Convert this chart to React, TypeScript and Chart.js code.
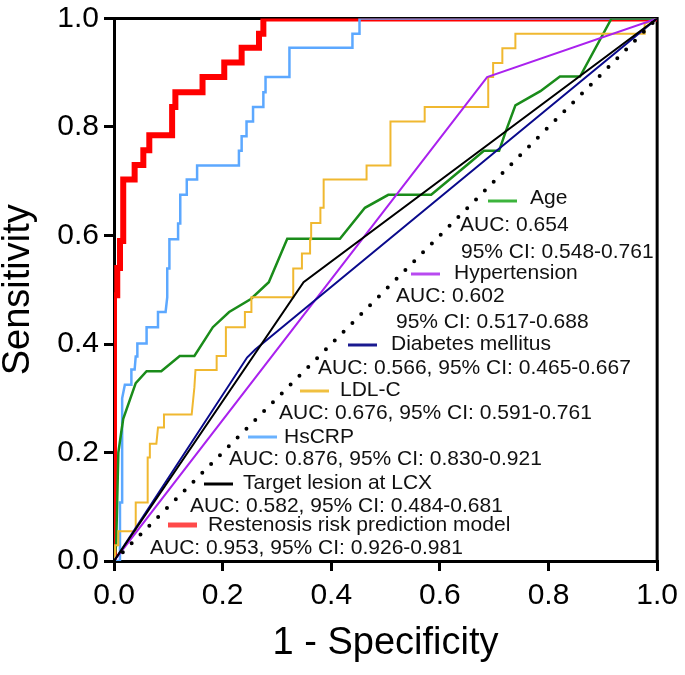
import React, { useEffect, useRef } from 'react';
import { Chart, registerables } from 'chart.js';

Chart.register(...registerables);

const FONT = '"Liberation Sans", Arial, Helvetica, sans-serif';

// ---- axis ticks ----
const xTickValues = [0, 0.2, 0.4, 0.6, 0.8, 1.0];
const yTickValues = [0, 0.2, 0.4, 0.6, 0.8, 1.0];
const xTitle = '1 - Specificity';
const yTitle = 'Sensitivity';

// ---- ROC curves: [1 - specificity, sensitivity] ----
const ageRoc: [number, number][] = [
  [0, 0], [0.004, 0.03], [0.008, 0.2], [0.013, 0.235], [0.017, 0.262], [0.04, 0.328], [0.06, 0.35],
  [0.087, 0.35], [0.121, 0.378], [0.148, 0.378], [0.182, 0.431], [0.212, 0.459], [0.252, 0.483],
  [0.285, 0.514], [0.319, 0.594], [0.416, 0.594], [0.462, 0.651], [0.505, 0.675], [0.584, 0.675],
  [0.651, 0.731], [0.681, 0.756], [0.709, 0.756], [0.721, 0.791], [0.739, 0.84], [0.785, 0.866],
  [0.821, 0.893], [0.858, 0.893], [0.916, 1], [1, 1],
];

const hypertensionRoc: [number, number][] = [
  [0, 0], [0.687, 0.892], [1, 1],
];

const diabetesRoc: [number, number][] = [
  [0, 0], [0.245, 0.375], [0.26, 0.39], [1, 1],
];

const ldlRoc: [number, number][] = [
  [0, 0], [0.002, 0], [0.002, 0.029], [0.008, 0.029], [0.008, 0.055], [0.04, 0.055], [0.04, 0.108],
  [0.062, 0.108], [0.062, 0.191], [0.066, 0.191], [0.066, 0.216], [0.078, 0.216], [0.081, 0.246],
  [0.092, 0.246], [0.092, 0.27], [0.143, 0.27], [0.148, 0.32], [0.15, 0.352], [0.189, 0.352],
  [0.189, 0.378], [0.206, 0.378], [0.206, 0.431], [0.241, 0.431], [0.241, 0.459], [0.253, 0.459],
  [0.253, 0.486], [0.33, 0.486], [0.33, 0.539], [0.346, 0.539], [0.346, 0.567], [0.361, 0.567],
  [0.361, 0.593], [0.363, 0.593], [0.363, 0.623], [0.38, 0.623], [0.38, 0.651], [0.386, 0.651],
  [0.386, 0.703], [0.465, 0.703], [0.465, 0.729], [0.509, 0.729], [0.509, 0.81], [0.572, 0.81],
  [0.572, 0.837], [0.689, 0.837], [0.689, 0.892], [0.698, 0.892], [0.698, 0.918], [0.715, 0.918],
  [0.715, 0.945], [0.739, 0.945], [0.739, 0.972], [0.977, 0.972], [0.977, 0.99], [1, 1],
];

const hsCrpRoc: [number, number][] = [
  [0, 0], [0.011, 0], [0.011, 0.108], [0.015, 0.108], [0.015, 0.3], [0.02, 0.325], [0.032, 0.325],
  [0.032, 0.353], [0.038, 0.353], [0.04, 0.377], [0.043, 0.377], [0.043, 0.401], [0.06, 0.401],
  [0.06, 0.431], [0.081, 0.431], [0.081, 0.459], [0.095, 0.459], [0.098, 0.486], [0.098, 0.539],
  [0.102, 0.539], [0.102, 0.593], [0.118, 0.593], [0.118, 0.622], [0.122, 0.622], [0.122, 0.675],
  [0.134, 0.675], [0.134, 0.703], [0.153, 0.703], [0.153, 0.729], [0.23, 0.729], [0.23, 0.756],
  [0.235, 0.756], [0.235, 0.783], [0.244, 0.783], [0.244, 0.81], [0.256, 0.81], [0.256, 0.837],
  [0.275, 0.837], [0.275, 0.864], [0.279, 0.864], [0.279, 0.892], [0.323, 0.892], [0.323, 0.946],
  [0.439, 0.946], [0.439, 0.972], [0.452, 0.972], [0.452, 1], [1, 1],
];

const targetLcxRoc: [number, number][] = [
  [0, 0], [0.349, 0.514], [1, 1],
];

const restenosisRoc: [number, number][] = [
  [0, 0], [0, 0.49], [0.006, 0.49], [0.006, 0.54], [0.011, 0.54], [0.011, 0.59], [0.017, 0.59],
  [0.017, 0.703], [0.038, 0.703], [0.038, 0.73], [0.054, 0.73], [0.054, 0.757], [0.065, 0.757],
  [0.065, 0.785], [0.107, 0.785], [0.107, 0.837], [0.113, 0.837], [0.113, 0.864], [0.163, 0.864],
  [0.163, 0.892], [0.203, 0.892], [0.203, 0.919], [0.235, 0.919], [0.235, 0.946], [0.267, 0.946],
  [0.267, 0.972], [0.275, 0.972], [0.275, 1], [1, 1],
];

const referenceLine: [number, number][] = [[0, 0], [1, 1]];

// ---- legend text ----
const seriesNames = [
  'Age',
  'Hypertension',
  'Diabetes mellitus',
  'LDL-C',
  'HsCRP',
  'Target lesion at LCX',
  'Restenosis risk prediction model',
];
const aucTexts = [
  ['AUC: 0.654', '95% CI: 0.548-0.761'],
  ['AUC: 0.602', '95% CI: 0.517-0.688'],
  ['AUC: 0.566, 95% CI: 0.465-0.667'],
  ['AUC: 0.676, 95% CI: 0.591-0.761'],
  ['AUC: 0.876, 95% CI: 0.830-0.921'],
  ['AUC: 0.582, 95% CI: 0.484-0.681'],
  ['AUC: 0.953, 95% CI: 0.926-0.981'],
];

// ---- styling ----
const seriesColors = ['#1a8c1a', '#aa22ee', '#0a0a8c', '#f0b830', '#5ca8ff', '#000000', '#ff0000'];
const legendColors = ['#3cb43c', '#b84af0', '#1a1a90', '#f0c040', '#6ab2ff', '#000000', '#ff4a4a'];
const seriesWidths = [2.5, 2, 2, 2, 2.5, 2, 6];
const seriesOrder = [5, 3, 2, 4, 6, 1, 7];

// legend layout (canvas px): swatch start, label start, stats rows
const legendLayout = [
  { swatch: [488, 201], label: [530, 198], stats: [[460, 225], [461, 252]] },
  { swatch: [411, 274], label: [454, 273], stats: [[396, 296], [396, 322]] },
  { swatch: [348, 345], label: [391, 344], stats: [[318, 368]] },
  { swatch: [300, 391], label: [340, 390], stats: [[279, 413]] },
  { swatch: [248, 437], label: [284, 437], stats: [[229, 459]] },
  { swatch: [204, 484], label: [243, 483], stats: [[190, 506]] },
  { swatch: [168, 525], label: [208, 525], stats: [[150, 548]] },
];

const framePlugin = {
  id: 'frameBox',
  beforeDatasetsDraw(chart: any) {
    const { ctx, chartArea } = chart;
    ctx.save();
    ctx.strokeStyle = '#000';
    ctx.lineWidth = 3;
    ctx.beginPath();
    ctx.moveTo(chartArea.left, chartArea.top);
    ctx.lineTo(chartArea.right, chartArea.top);
    ctx.lineTo(chartArea.right, chartArea.bottom);
    ctx.stroke();
    ctx.restore();
  },
};

const legendPlugin = {
  id: 'rocLegend',
  afterDraw(chart: any) {
    const ctx = chart.ctx;
    ctx.save();
    ctx.font = `21px ${FONT}`;
    ctx.textBaseline = 'middle';
    ctx.textAlign = 'left';
    legendLayout.forEach((L, i) => {
      ctx.strokeStyle = legendColors[i];
      ctx.lineWidth = i === 6 ? 5 : 3;
      ctx.lineCap = 'butt';
      ctx.beginPath();
      ctx.moveTo(L.swatch[0], L.swatch[1]);
      ctx.lineTo(L.swatch[0] + 29, L.swatch[1]);
      ctx.stroke();
      ctx.fillStyle = '#111';
      ctx.fillText(seriesNames[i], L.label[0], L.label[1]);
      aucTexts[i].forEach((t, j) => {
        const p = L.stats[j];
        if (p) ctx.fillText(t, p[0], p[1]);
      });
    });
    ctx.restore();
  },
};

const toPoints = (arr: [number, number][]) => arr.map(([x, y]) => ({ x, y }));

export default function App() {
  const canvasRef = useRef<HTMLCanvasElement | null>(null);

  useEffect(() => {
    if (!canvasRef.current) return;
    const curves = [ageRoc, hypertensionRoc, diabetesRoc, ldlRoc, hsCrpRoc, targetLcxRoc, restenosisRoc];
    const datasets: any[] = curves.map((c, i) => ({
      label: seriesNames[i],
      data: toPoints(c),
      borderColor: seriesColors[i],
      backgroundColor: seriesColors[i],
      borderWidth: seriesWidths[i],
      showLine: true,
      pointRadius: 0,
      fill: false,
      tension: 0,
      borderJoinStyle: 'miter',
      borderCapStyle: 'butt',
      order: seriesOrder[i],
    }));
    datasets.push({
      label: 'Reference',
      data: toPoints(referenceLine),
      borderColor: '#000',
      borderWidth: 4,
      borderDash: [0, 12.48],
      borderCapStyle: 'round',
      showLine: true,
      pointRadius: 0,
      fill: false,
      order: 0,
    });

    const tickFont = { family: FONT, size: 30, lineHeight: 1.2 };
    const yTickFont = { family: FONT, size: 30, lineHeight: 0.9 };
    const titleFont = { family: FONT, size: 38, lineHeight: 1 };

    const chart = new Chart(canvasRef.current, {
      type: 'scatter',
      data: { datasets },
      plugins: [framePlugin, legendPlugin],
      options: {
        animation: false,
        responsive: false,
        devicePixelRatio: 1,
        layout: { padding: { left: 0, top: 14, right: 24, bottom: 0 } },
        plugins: { legend: { display: false }, tooltip: { enabled: false } },
        scales: {
          x: {
            type: 'linear',
            position: 'bottom',
            min: 0,
            max: 1,
            afterBuildTicks: (s: any) => { s.ticks = xTickValues.map((v) => ({ value: v })); },
            afterFit: (s: any) => { s.height = 114; },
            ticks: {
              font: tickFont,
              color: '#000',
              padding: 7,
              maxRotation: 0,
              autoSkip: false,
              callback: (v: any) => Number(v).toFixed(1),
            },
            grid: { display: true, drawOnChartArea: false, drawTicks: true, tickLength: 10, lineWidth: 3, tickWidth: 3, tickColor: '#000', color: '#000' },
            border: { display: true, width: 3, color: '#000' },
            title: { display: true, text: xTitle, font: titleFont, color: '#000', padding: { top: 0, bottom: 12 } },
          },
          y: {
            type: 'linear',
            position: 'left',
            min: 0,
            max: 1,
            afterBuildTicks: (s: any) => { s.ticks = yTickValues.map((v) => ({ value: v })); },
            afterFit: (s: any) => { s.width = 114; },
            ticks: {
              font: yTickFont,
              color: '#000',
              padding: 5,
              autoSkip: false,
              callback: (v: any) => Number(v).toFixed(1),
            },
            grid: { display: true, drawOnChartArea: false, drawTicks: true, tickLength: 10, lineWidth: 3, tickWidth: 3, tickColor: '#000', color: '#000' },
            border: { display: true, width: 3, color: '#000' },
            title: { display: true, text: yTitle, font: titleFont, color: '#000', padding: { top: 0, bottom: 0 } },
          },
        },
      } as any,
    });
    return () => chart.destroy();
  }, []);

  return (
    <div style={{ position: 'absolute', left: 0, top: 0, width: 685, height: 675, background: '#fff' }}>
      <canvas ref={canvasRef} width={685} height={675} style={{ display: 'block', width: 685, height: 675 }} />
    </div>
  );
}
